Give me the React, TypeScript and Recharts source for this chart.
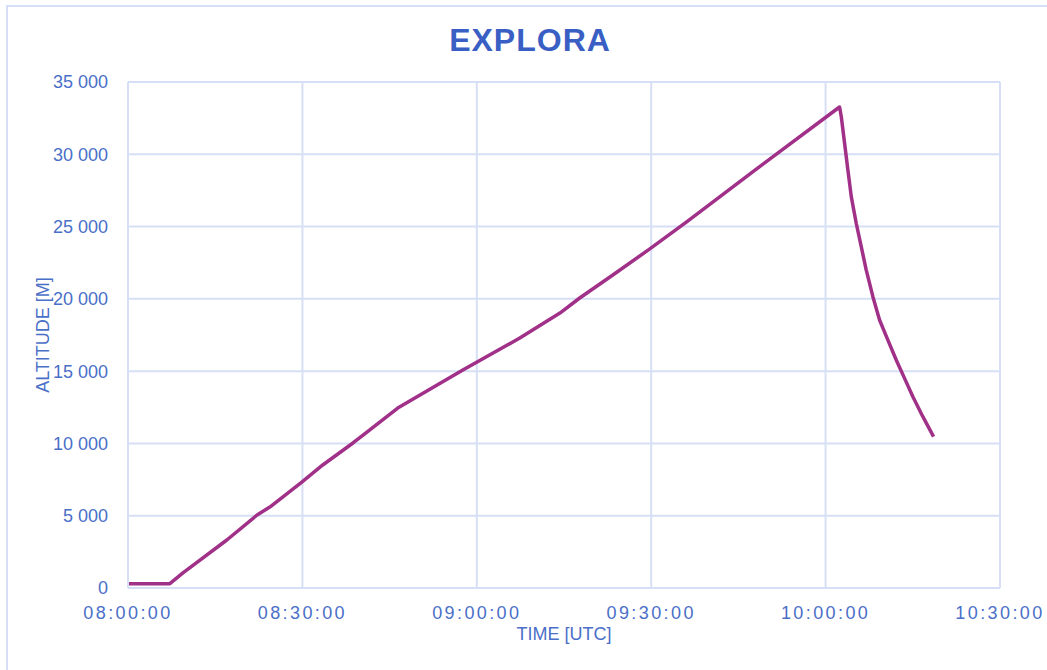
import { LineChart, Line, XAxis, YAxis, CartesianGrid } from 'recharts';

const times = [
  '08:00:00', '08:07:12', '08:09:27', '08:17:00', '08:22:12', '08:24:24', '08:29:54',
  '08:33:30', '08:38:42', '08:41:06', '08:46:24', '08:57:36', '09:07:24', '09:14:18',
  '09:17:42', '09:23:24', '09:29:42', '09:36:06', '09:47:24', '10:02:24',
  '10:02:42', '10:03:16', '10:03:50', '10:04:25', '10:05:16', '10:06:08', '10:06:59',
  '10:08:08', '10:09:17', '10:10:43', '10:12:09', '10:13:35', '10:15:01', '10:16:44',
  '10:18:34',
];
const altitudes = [
  300, 300, 1040, 3320, 5050, 5600, 7330,
  8510, 10030, 10790, 12450, 15080, 17290, 19020,
  20060, 21650, 23440, 25320, 28770, 33270,
  32600, 30760, 28910, 27070, 25230, 23610, 22000,
  20150, 18540, 17150, 15770, 14500, 13230, 11850,
  10470,
];
const timeTicks = ['08:00:00', '08:30:00', '09:00:00', '09:30:00', '10:00:00', '10:30:00'];
const altitudeTicks = [0, 5000, 10000, 15000, 20000, 25000, 30000, 35000];

const BLUE = '#4a6fc8';
const GRID = '#d6dff5';
const FONT = '"Liberation Sans", Arial, sans-serif';

function toSec(s: string) {
  const [h, m, sec] = s.split(':').map(Number);
  return h * 3600 + m * 60 + sec;
}

function fmtTime(v: number) {
  const h = Math.floor(v / 3600);
  const m = Math.floor((v % 3600) / 60);
  const s = Math.round(v % 60);
  const p = (n: number) => String(n).padStart(2, '0');
  return `${p(h)}:${p(m)}:${p(s)}`;
}

function fmtAlt(v: number) {
  return String(v).replace(/\B(?=(\d{3})+(?!\d))/g, ' ');
}

const data = times.map((t, i) => ({ t: toSec(t), alt: altitudes[i] }));

export default function App() {
  return (
    <div
      style={{
        position: 'absolute',
        left: 0,
        top: 0,
        width: 1047,
        height: 670,
        overflow: 'hidden',
        background: '#fff',
        fontFamily: FONT,
      }}
    >
      <div
        style={{
          position: 'absolute',
          left: 6,
          top: 5,
          width: 1080,
          height: 700,
          border: `2px solid ${GRID}`,
        }}
      />
      <div style={{ position: 'absolute', left: 0, top: 0 }}>
        <LineChart
          width={1047}
          height={670}
          data={data}
          margin={{ top: 82, right: 47, bottom: 42, left: 48 }}
        >
          <text
            x={530}
            y={40}
            textAnchor="middle"
            dominantBaseline="central"
            fill="#3a5fc4"
            style={{ fontSize: 32, fontWeight: 700, letterSpacing: 1, fontFamily: FONT }}
          >
            EXPLORA
          </text>
          <CartesianGrid stroke={GRID} strokeWidth={2} />
          <XAxis
            dataKey="t"
            type="number"
            domain={[toSec(timeTicks[0]), toSec(timeTicks[timeTicks.length - 1])]}
            ticks={timeTicks.map(toSec)}
            tickFormatter={fmtTime}
            height={40}
            axisLine={{ stroke: GRID, strokeWidth: 2 }}
            tickLine={false}
            tick={{ fill: BLUE, fontSize: 18, letterSpacing: 2.4, fontFamily: FONT }}
            tickMargin={12}
            label={{
              value: 'TIME [UTC]',
              position: 'insideBottom',
              offset: -12,
              fill: BLUE,
              fontSize: 18,
              fontFamily: FONT,
            }}
          />
          <YAxis
            type="number"
            domain={[0, 35000]}
            ticks={altitudeTicks}
            tickFormatter={fmtAlt}
            width={80}
            axisLine={{ stroke: GRID, strokeWidth: 2 }}
            tickLine={false}
            tick={{ fill: BLUE, fontSize: 18, fontFamily: FONT }}
            tickMargin={14}
            label={{
              value: 'ALTITUDE [M]',
              angle: -90,
              position: 'insideLeft',
              offset: 0,
              dx: -5,
              fill: BLUE,
              fontSize: 18,
              fontFamily: FONT,
              style: { textAnchor: 'middle' },
            }}
          />
          <Line
            type="linear"
            dataKey="alt"
            stroke="#a03088"
            strokeWidth={3.5}
            strokeLinejoin="round"
            dot={false}
            isAnimationActive={false}
          />
        </LineChart>
      </div>
    </div>
  );
}
